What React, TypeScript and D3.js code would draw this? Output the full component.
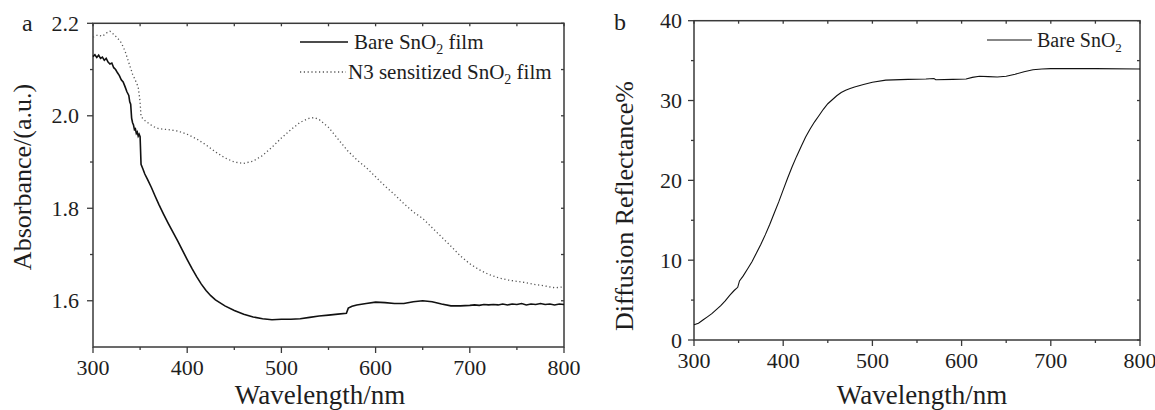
import React from "react";
import * as d3 from "d3";

// Panel a: absorbance spectra
const bareWl = [300,302,304,306,308,310,312,314,316,318,320,322,324,326,328,330,332,334,336,338,339,340,341,342,343,344,345,346,347,348,349,350,351,353,355,358,362,366,370,375,380,385,390,395,400,405,410,415,420,425,430,440,450,460,470,480,490,500,510,520,530,540,550,560,569,571,575,580,590,600,610,620,630,640,650,660,670,680,690,700,705,710,715,720,725,730,735,740,745,750,755,760,765,770,775,780,785,790,795,800];
const bareAbs = [2.128,2.132,2.126,2.131,2.124,2.127,2.120,2.124,2.116,2.112,2.114,2.104,2.100,2.093,2.087,2.078,2.073,2.063,2.052,2.044,2.030,2.025,1.995,1.985,1.980,1.970,1.972,1.962,1.965,1.956,1.960,1.955,1.895,1.885,1.874,1.862,1.845,1.826,1.808,1.787,1.767,1.748,1.729,1.709,1.689,1.670,1.652,1.636,1.622,1.611,1.602,1.589,1.579,1.571,1.565,1.561,1.559,1.560,1.560,1.561,1.564,1.567,1.569,1.571,1.573,1.584,1.588,1.591,1.594,1.597,1.596,1.594,1.594,1.598,1.600,1.598,1.593,1.589,1.589,1.590,1.591,1.590,1.592,1.591,1.592,1.591,1.593,1.591,1.593,1.592,1.594,1.591,1.593,1.592,1.594,1.592,1.593,1.591,1.593,1.592];

const n3Wl = [300,305,310,315,318,322,326,330,334,338,342,346,348,350,351,355,360,365,370,380,390,400,410,420,430,440,450,460,470,480,490,500,510,520,530,535,540,550,560,570,580,590,600,610,620,630,640,650,660,670,680,690,700,710,720,730,740,750,760,770,780,790,800];
const n3Abs = [2.170,2.175,2.172,2.180,2.183,2.176,2.168,2.158,2.140,2.115,2.090,2.072,2.062,2.030,1.998,1.990,1.982,1.976,1.972,1.970,1.967,1.960,1.950,1.937,1.922,1.909,1.900,1.897,1.902,1.914,1.932,1.952,1.970,1.986,1.995,1.996,1.992,1.975,1.950,1.925,1.905,1.888,1.868,1.848,1.830,1.810,1.792,1.778,1.758,1.738,1.718,1.697,1.680,1.667,1.657,1.650,1.645,1.642,1.639,1.635,1.632,1.628,1.630];

// Panel b: diffuse reflectance
const reflWl = [300,305,310,315,320,325,330,335,340,345,349,351,355,360,365,370,375,380,385,390,395,400,405,410,415,420,425,430,435,440,445,450,455,460,465,470,475,480,485,490,500,515,540,560,569,571,590,605,612,620,630,640,650,660,670,680,690,700,750,800];
const reflVal = [1.9,2.1,2.5,2.9,3.3,3.8,4.3,4.9,5.6,6.2,6.6,7.4,8.0,8.9,9.8,10.9,12.0,13.2,14.5,15.9,17.3,18.8,20.3,21.7,23.0,24.2,25.4,26.4,27.3,28.1,28.9,29.6,30.1,30.6,31.0,31.3,31.5,31.7,31.85,32.0,32.3,32.55,32.65,32.7,32.75,32.6,32.65,32.7,32.9,33.05,33.0,32.95,33.05,33.3,33.6,33.85,33.95,34.0,34.0,33.95];

const xMajor = [300, 400, 500, 600, 700, 800];
const xMinor = [350, 450, 550, 650, 750];
const aYMajor = [1.6, 1.8, 2.0, 2.2];
const aYMinor = [1.7, 1.9, 2.1];
const bYMajor = [0, 10, 20, 30, 40];
const bYMinor = [5, 15, 25, 35];

const FONT = "'Liberation Serif', 'Times New Roman', serif";
const AXIS = "#3a3a3a";
const INK = "#1e1e1e";

type PanelProps = {
  x: d3.ScaleLinear<number, number>;
  y: d3.ScaleLinear<number, number>;
  yMajor: number[];
  yMinor: number[];
  yFmt: (v: number) => string;
  yLabelGap: number;
  xTitleX: number;
  yTitle: string;
  yTitleX: number;
  yTitleY: number;
};

function Frame({ x, y, yMajor, yMinor, yFmt, yLabelGap, xTitleX, yTitle, yTitleX, yTitleY }: PanelProps) {
  const [x0, x1] = x.range();
  const [y0, y1] = y.range();
  const outMaj = 6, outMin = 3, inT = 3;
  return (
    <g>
      <rect x={x0} y={y1} width={x1 - x0} height={y0 - y1} fill="none" stroke={AXIS} strokeWidth={1.5} />
      {xMajor.map((v) => (
        <g key={"xM" + v}>
          <line x1={x(v)} x2={x(v)} y1={y0} y2={y0 + outMaj} stroke={AXIS} strokeWidth={1.3} />
          <line x1={x(v)} x2={x(v)} y1={y1} y2={y1 + inT} stroke={AXIS} strokeWidth={1.3} />
          <text x={x(v)} y={y0 + 28} textAnchor="middle" fontFamily={FONT} fontSize={22} fill={INK}>{v}</text>
        </g>
      ))}
      {xMinor.map((v) => (
        <g key={"xm" + v}>
          <line x1={x(v)} x2={x(v)} y1={y0} y2={y0 + outMin} stroke={AXIS} strokeWidth={1.3} />
          <line x1={x(v)} x2={x(v)} y1={y1} y2={y1 + inT} stroke={AXIS} strokeWidth={1.3} />
        </g>
      ))}
      {yMajor.map((v) => (
        <g key={"yM" + v}>
          <line x1={x0} x2={x0 - outMaj} y1={y(v)} y2={y(v)} stroke={AXIS} strokeWidth={1.3} />
          <line x1={x1} x2={x1 - inT} y1={y(v)} y2={y(v)} stroke={AXIS} strokeWidth={1.3} />
          <text x={x0 - yLabelGap} y={y(v)} dy="0.35em" textAnchor="end" fontFamily={FONT} fontSize={22} fill={INK}>{yFmt(v)}</text>
        </g>
      ))}
      {yMinor.map((v) => (
        <g key={"ym" + v}>
          <line x1={x0} x2={x0 - outMin} y1={y(v)} y2={y(v)} stroke={AXIS} strokeWidth={1.3} />
          <line x1={x1} x2={x1 - inT} y1={y(v)} y2={y(v)} stroke={AXIS} strokeWidth={1.3} />
        </g>
      ))}
      <text x={xTitleX} y={404} textAnchor="middle" fontFamily={FONT} fontSize={27} fill={INK}>Wavelength/nm</text>
      <text transform={`translate(${yTitleX},${yTitleY}) rotate(-90)`} textAnchor="middle" fontFamily={FONT} fontSize={26} fill={INK}>{yTitle}</text>
    </g>
  );
}

export default function App() {
  const xa = d3.scaleLinear().domain([300, 800]).range([93, 564]);
  const ya = d3.scaleLinear().domain([1.5, 2.2]).range([347, 23.3]);
  const xb = d3.scaleLinear().domain([300, 800]).range([694, 1140]);
  const yb = d3.scaleLinear().domain([0, 40]).range([340, 20.7]);

  const lineA = d3.line<number>().x((d, i) => xa(bareWl[i])).y((d) => ya(d));
  const lineN3 = d3.line<number>().x((d, i) => xa(n3Wl[i])).y((d) => ya(d));
  const lineB = d3.line<number>().x((d, i) => xb(reflWl[i])).y((d) => yb(d));

  return (
    <svg width={1155} height={410} style={{ position: "absolute", left: 0, top: 0, background: "#fff" }}>
      <rect width={1155} height={410} fill="#fff" />
      {/* panel a */}
      <text x={22} y={31} fontFamily={FONT} fontSize={24} fill={INK}>a</text>
      <Frame x={xa} y={ya} yMajor={aYMajor} yMinor={aYMinor} yFmt={(v) => v.toFixed(1)} yLabelGap={14}
        xTitleX={320} yTitle="Absorbance/(a.u.)" yTitleX={31} yTitleY={177} />
      <path d={lineN3(n3Abs) || ""} fill="none" stroke="#555" strokeWidth={1.3} strokeDasharray="1.2 2.6" />
      <path d={lineA(bareAbs) || ""} fill="none" stroke="#111" strokeWidth={1.6} />
      <line x1={300} x2={348} y1={42} y2={42} stroke="#111" strokeWidth={1.6} />
      <text x={354} y={49} fontFamily={FONT} fontSize={21} fill={INK}>
        Bare SnO<tspan dy={5} fontSize={14}>2</tspan><tspan dy={-5}> film</tspan>
      </text>
      <line x1={300} x2={346} y1={72} y2={72} stroke="#555" strokeWidth={1.3} strokeDasharray="1.2 2.6" />
      <text x={348} y={79} fontFamily={FONT} fontSize={21} fill={INK}>
        N3 sensitized SnO<tspan dy={5} fontSize={14}>2</tspan><tspan dy={-5}> film</tspan>
      </text>

      {/* panel b */}
      <text x={614} y={30} fontFamily={FONT} fontSize={24} fill={INK}>b</text>
      <Frame x={xb} y={yb} yMajor={bYMajor} yMinor={bYMinor} yFmt={(v) => String(v)} yLabelGap={12}
        xTitleX={922} yTitle="Diffusion Reflectance%" yTitleX={633} yTitleY={206} />
      <path d={lineB(reflVal) || ""} fill="none" stroke="#111" strokeWidth={1.1} />
      <line x1={987} x2={1032} y1={40} y2={40} stroke="#111" strokeWidth={1.1} />
      <text x={1037} y={47} fontFamily={FONT} fontSize={20} fill={INK}>
        Bare SnO<tspan dy={5} fontSize={13}>2</tspan>
      </text>
    </svg>
  );
}
